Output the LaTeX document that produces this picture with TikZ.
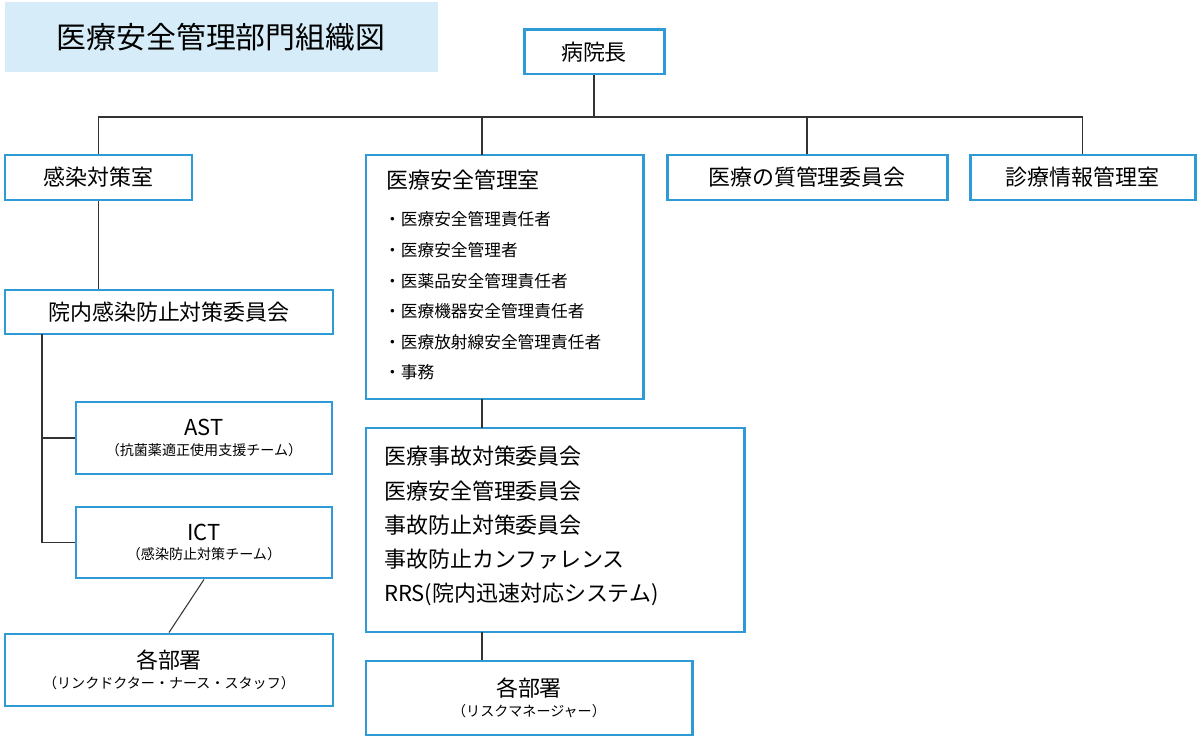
\documentclass[tikz,border=0pt]{standalone}
\usepackage{fontspec}
\setmainfont{Noto Sans CJK JP}
\usetikzlibrary{positioning}
\definecolor{orgblue}{RGB}{46,155,214}
\definecolor{titlebg}{RGB}{214,236,248}
\tikzset{
  unit/.style={draw=orgblue, line width=1.7pt, fill=white, inner sep=0pt},
  conn/.style={line width=0.6pt, color=black!80},
}
\begin{document}
\begin{tikzpicture}[x=0.02cm, y=-0.02cm]
\useasboundingbox (0,0) rectangle (1200,739);

% title
\fill[titlebg] (5,2) rectangle (438,72);
\node[font=\fontsize{17}{20}\selectfont] (title) at (221,37) {医療安全管理部門組織図};

% boxes
\node[unit, minimum width=140*0.02cm, minimum height=44*0.02cm] (head) at (594,52) {\fontsize{12.5}{15}\selectfont 病院長};
\node[unit, minimum width=187*0.02cm, minimum height=45*0.02cm] (kansen) at (98.5,177.5) {\fontsize{12.5}{15}\selectfont 感染対策室};
\draw[unit] (366,155) rectangle (643,399);
\node[anchor=west, font=\fontsize{12.5}{15}\selectfont] (anzen) at (380,180) {医療安全管理室};
\coordinate (anzenN) at (482,155);
\coordinate (anzenS) at (482,399);
\foreach \t [count=\i] in {医療安全管理責任者,医療安全管理者,医薬品安全管理責任者,医療機器安全管理責任者,医療放射線安全管理責任者,事務}
  \node[anchor=west, font=\fontsize{9.5}{11}\selectfont] (item\i) at (378,189+\i*30.6) {・\t};
\node[unit, minimum width=280*0.02cm, minimum height=45*0.02cm] (shitsu) at (807,177.5) {\fontsize{12.5}{15}\selectfont 医療の質管理委員会};
\node[unit, minimum width=225*0.02cm, minimum height=45*0.02cm] (joho) at (1082.5,177.5) {\fontsize{12.5}{15}\selectfont 診療情報管理室};

\node[unit, minimum width=328*0.02cm, minimum height=44*0.02cm] (iinkai) at (169,312) {\fontsize{12.5}{15}\selectfont 院内感染防止対策委員会};
\node[unit, minimum width=256*0.02cm, minimum height=72*0.02cm, align=center] (ast) at (204,438)
  {\fontsize{12.5}{15}\selectfont AST\\[-1pt]\fontsize{8}{10}\selectfont （抗菌薬適正使用支援チーム）};
\node[unit, minimum width=256*0.02cm, minimum height=71*0.02cm, align=center] (ict) at (204,542.5)
  {\fontsize{12.5}{15}\selectfont ICT\\[-1pt]\fontsize{8}{10}\selectfont （感染防止対策チーム）};
\node[unit, minimum width=328*0.02cm, minimum height=72*0.02cm, align=center] (busho1) at (169,670)
  {\fontsize{12.5}{15}\selectfont 各部署\\[-1pt]\fontsize{8}{10}\selectfont （リンクドクター・ナース・スタッフ）};

\draw[unit] (366,428) rectangle (744,632);
\coordinate (comN) at (482,428);
\coordinate (comS) at (482,632);
\node[anchor=north west, align=left, font=\fontsize{12.5}{19.5}\selectfont] (com) at (378,440)
  {医療事故対策委員会\\医療安全管理委員会\\事故防止対策委員会\\事故防止カンファレンス\\RRS(院内迅速対応システム)};
\node[unit, minimum width=326*0.02cm, minimum height=74*0.02cm, align=center] (busho2) at (529,698)
  {\fontsize{12.5}{15}\selectfont 各部署\\[-1pt]\fontsize{8}{10}\selectfont （リスクマネージャー）};

% connectors
\coordinate (hub) at (594,117);
\draw[conn] (head.south) -- (hub);
\draw[conn] (kansen.north) |- (hub);
\draw[conn] (joho.north) |- (hub);
\draw[conn] (anzenN) -- (anzenN |- hub);
\draw[conn] (shitsu.north) -- (shitsu.north |- hub);
\draw[conn] (kansen.south) -- (iinkai.north -| kansen.south);
\coordinate (trunk) at (42,334);
\draw[conn] (trunk) |- (ict.west);
\draw[conn] (trunk |- ast.west) -- (ast.west);
\draw[conn] (ict.south) -- (busho1.north);
\draw[conn] (anzenS) -- (comN);
\draw[conn] (comS) -- (comS |- busho2.north);
\end{tikzpicture}
\end{document}
